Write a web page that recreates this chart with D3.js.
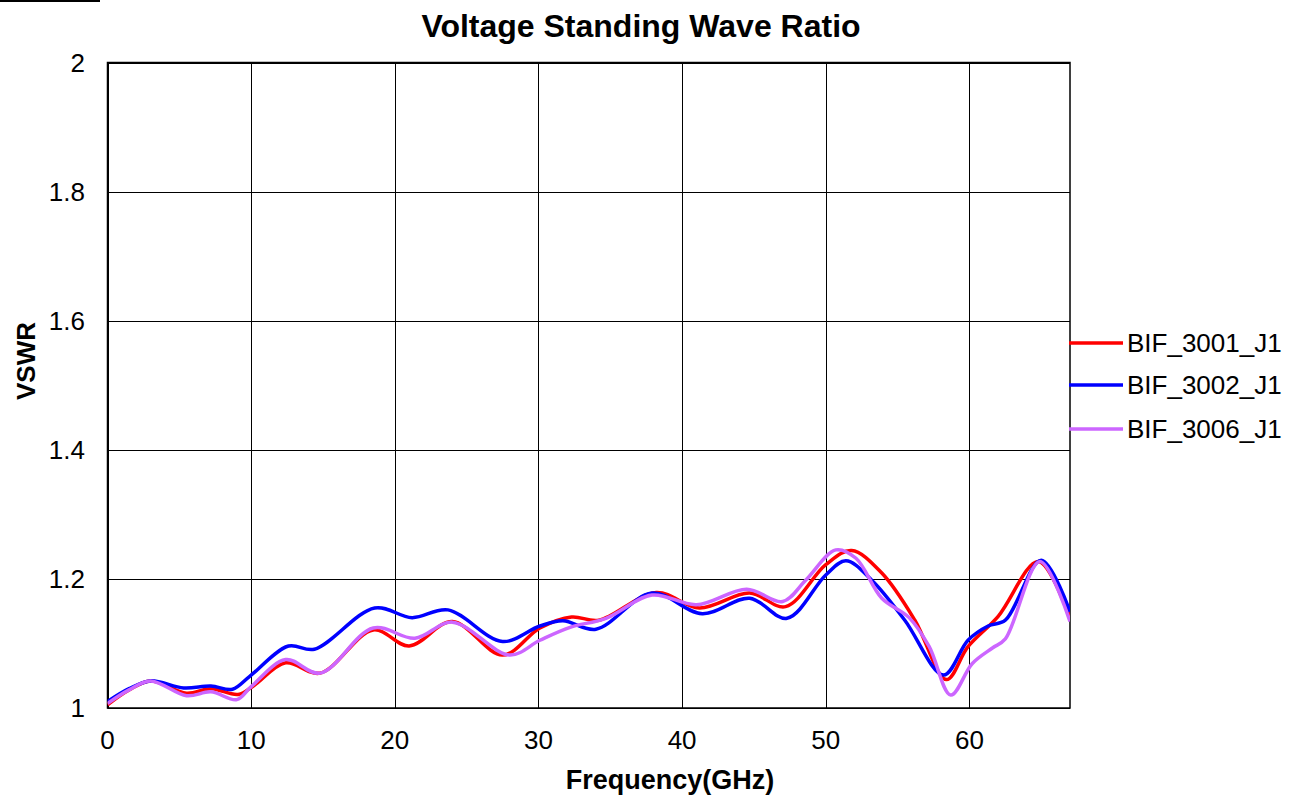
<!DOCTYPE html>
<html>
<head>
<meta charset="utf-8">
<script src="https://d3js.org/d3.v7.min.js"></script>
<style>
  body { margin: 0; background: #fff; }
  text { font-family: "Liberation Sans", Arial, sans-serif; }
</style>
</head>
<body>
<svg id="chart" width="1301" height="796"></svg>
<script>
// data
var xTicks = [0, 10, 20, 30, 40, 50, 60];
var yTicks = [1, 1.2, 1.4, 1.6, 1.8, 2];
var seriesNames = ["BIF_3001_J1", "BIF_3002_J1", "BIF_3006_J1"];
var seriesColors = ["#ff0000", "#0000ff", "#cc66ff"];

var freq3001 = [0, 1.5, 3, 5.5, 7.2, 9.1, 10.2, 12.4, 14.8, 18.5, 21.0, 24.0, 27.5, 30.1, 32.3, 34.2, 38.2, 41.2, 44.7, 47.2, 50, 51.8, 53.9, 56.2, 58.4, 59.9, 62.0, 64.8, 67];
var vswr3001 = [1.005, 1.028, 1.042, 1.023, 1.030, 1.021, 1.035, 1.070, 1.054, 1.121, 1.096, 1.134, 1.082, 1.124, 1.141, 1.136, 1.179, 1.155, 1.178, 1.157, 1.222, 1.244, 1.209, 1.136, 1.044, 1.095, 1.142, 1.227, 1.139];

var freq3002 = [0, 1.5, 3, 5.3, 7.2, 8.7, 9.9, 12.6, 14.4, 18.6, 21.2, 23.7, 27.5, 30.1, 31.7, 34.0, 37.9, 41.4, 44.7, 47.3, 50.0, 51.4, 53.2, 55.5, 58.2, 59.9, 61.3, 62.5, 65.0, 67];
var vswr3002 = [1.010, 1.030, 1.042, 1.031, 1.034, 1.029, 1.049, 1.096, 1.091, 1.155, 1.140, 1.152, 1.103, 1.127, 1.135, 1.122, 1.178, 1.146, 1.170, 1.139, 1.206, 1.228, 1.198, 1.136, 1.051, 1.105, 1.127, 1.136, 1.229, 1.149];

var freq3006 = [0, 1.5, 3, 5.5, 7.2, 9.0, 10, 12.4, 14.8, 18.5, 21.4, 24.0, 28.0, 30.1, 32.2, 34.7, 37.9, 41.0, 44.5, 47.0, 48.6, 50.7, 52.1, 53.9, 55.8, 57.2, 58.7, 60.2, 61.6, 62.5, 64.9, 67];
var vswr3006 = [1.007, 1.028, 1.042, 1.019, 1.025, 1.013, 1.033, 1.075, 1.054, 1.124, 1.108, 1.133, 1.082, 1.105, 1.125, 1.139, 1.175, 1.160, 1.184, 1.165, 1.198, 1.245, 1.232, 1.170, 1.140, 1.095, 1.020, 1.069, 1.093, 1.107, 1.227, 1.134];

var allFreq = [freq3001, freq3002, freq3006];
var allVswr = [vswr3001, vswr3002, vswr3006];

var svg = d3.select("#chart");
var pLeft = 107.5, pRight = 1070, pTop = 62.5, pBottom = 708;

var x = d3.scaleLinear().domain([0, 67]).range([pLeft, pRight]);
var y = d3.scaleLinear().domain([1, 2]).range([pBottom, pTop]);

// stray mark in the top-left corner
svg.append("line").attr("x1", 0).attr("x2", 100).attr("y1", 1).attr("y2", 1)
    .attr("stroke", "#000").attr("stroke-width", 2);

// grid
var grid = svg.append("g");
grid.selectAll(".vg").data(xTicks).enter().append("line")
    .attr("x1", function(d) { return Math.round(x(d)) + 0.5; })
    .attr("x2", function(d) { return Math.round(x(d)) + 0.5; })
    .attr("y1", pTop).attr("y2", pBottom)
    .attr("stroke", "#000").attr("stroke-width", 1);
grid.selectAll(".hg").data(yTicks).enter().append("line")
    .attr("x1", pLeft).attr("x2", pRight)
    .attr("y1", function(d) { return Math.round(y(d)) + 0.5; })
    .attr("y2", function(d) { return Math.round(y(d)) + 0.5; })
    .attr("stroke", "#000").attr("stroke-width", 1);
svg.append("rect").attr("x", pLeft).attr("y", pTop)
    .attr("width", pRight - pLeft).attr("height", pBottom - pTop)
    .attr("fill", "none").attr("stroke", "#000").attr("stroke-width", 1.5);

// curves
var line = d3.line()
    .x(function(d) { return x(d[0]); })
    .y(function(d) { return y(d[1]); })
    .curve(d3.curveCatmullRom.alpha(0.5));

svg.append("clipPath").attr("id", "clip").append("rect")
    .attr("x", pLeft).attr("y", pTop).attr("width", pRight - pLeft).attr("height", pBottom - pTop);

for (var i = 0; i < 3; i++) {
    var pts = allFreq[i].map(function(f, j) { return [f, allVswr[i][j]]; });
    svg.append("path")
        .attr("d", line(pts))
        .attr("fill", "none")
        .attr("clip-path", "url(#clip)")
        .attr("stroke", seriesColors[i])
        .attr("stroke-width", 3.5)
        .attr("stroke-linejoin", "round");
}

// tick labels
svg.selectAll(".xl").data(xTicks).enter().append("text")
    .attr("x", function(d) { return x(d); })
    .attr("y", 749)
    .attr("text-anchor", "middle")
    .attr("font-size", 26)
    .text(function(d) { return d; });
svg.selectAll(".yl").data(yTicks).enter().append("text")
    .attr("x", 85)
    .attr("y", function(d) { return y(d) + 9; })
    .attr("text-anchor", "end")
    .attr("font-size", 26)
    .text(function(d) { return d3.format("~g")(d); });

// titles
svg.append("text").attr("x", 641).attr("y", 37).attr("text-anchor", "middle")
    .attr("font-size", 32).attr("font-weight", "bold").text("Voltage Standing Wave Ratio");
svg.append("text").attr("x", 670).attr("y", 789).attr("text-anchor", "middle")
    .attr("font-size", 27).attr("font-weight", "bold").text("Frequency(GHz)");
svg.append("text").attr("transform", "translate(35,361) rotate(-90)").attr("text-anchor", "middle")
    .attr("font-size", 26).attr("font-weight", "bold").text("VSWR");

// legend
var legY = [343, 385, 429];
var leg = svg.selectAll(".leg").data(seriesNames).enter().append("g")
    .attr("transform", function(d, i) { return "translate(1069," + legY[i] + ")"; });
leg.append("line").attr("x1", 0).attr("x2", 54).attr("y1", 0).attr("y2", 0)
    .attr("stroke", function(d, i) { return seriesColors[i]; }).attr("stroke-width", 3.5);
leg.append("text").attr("x", 58).attr("y", 9).attr("font-size", 26)
    .text(function(d) { return d; });
</script>
</body>
</html>
